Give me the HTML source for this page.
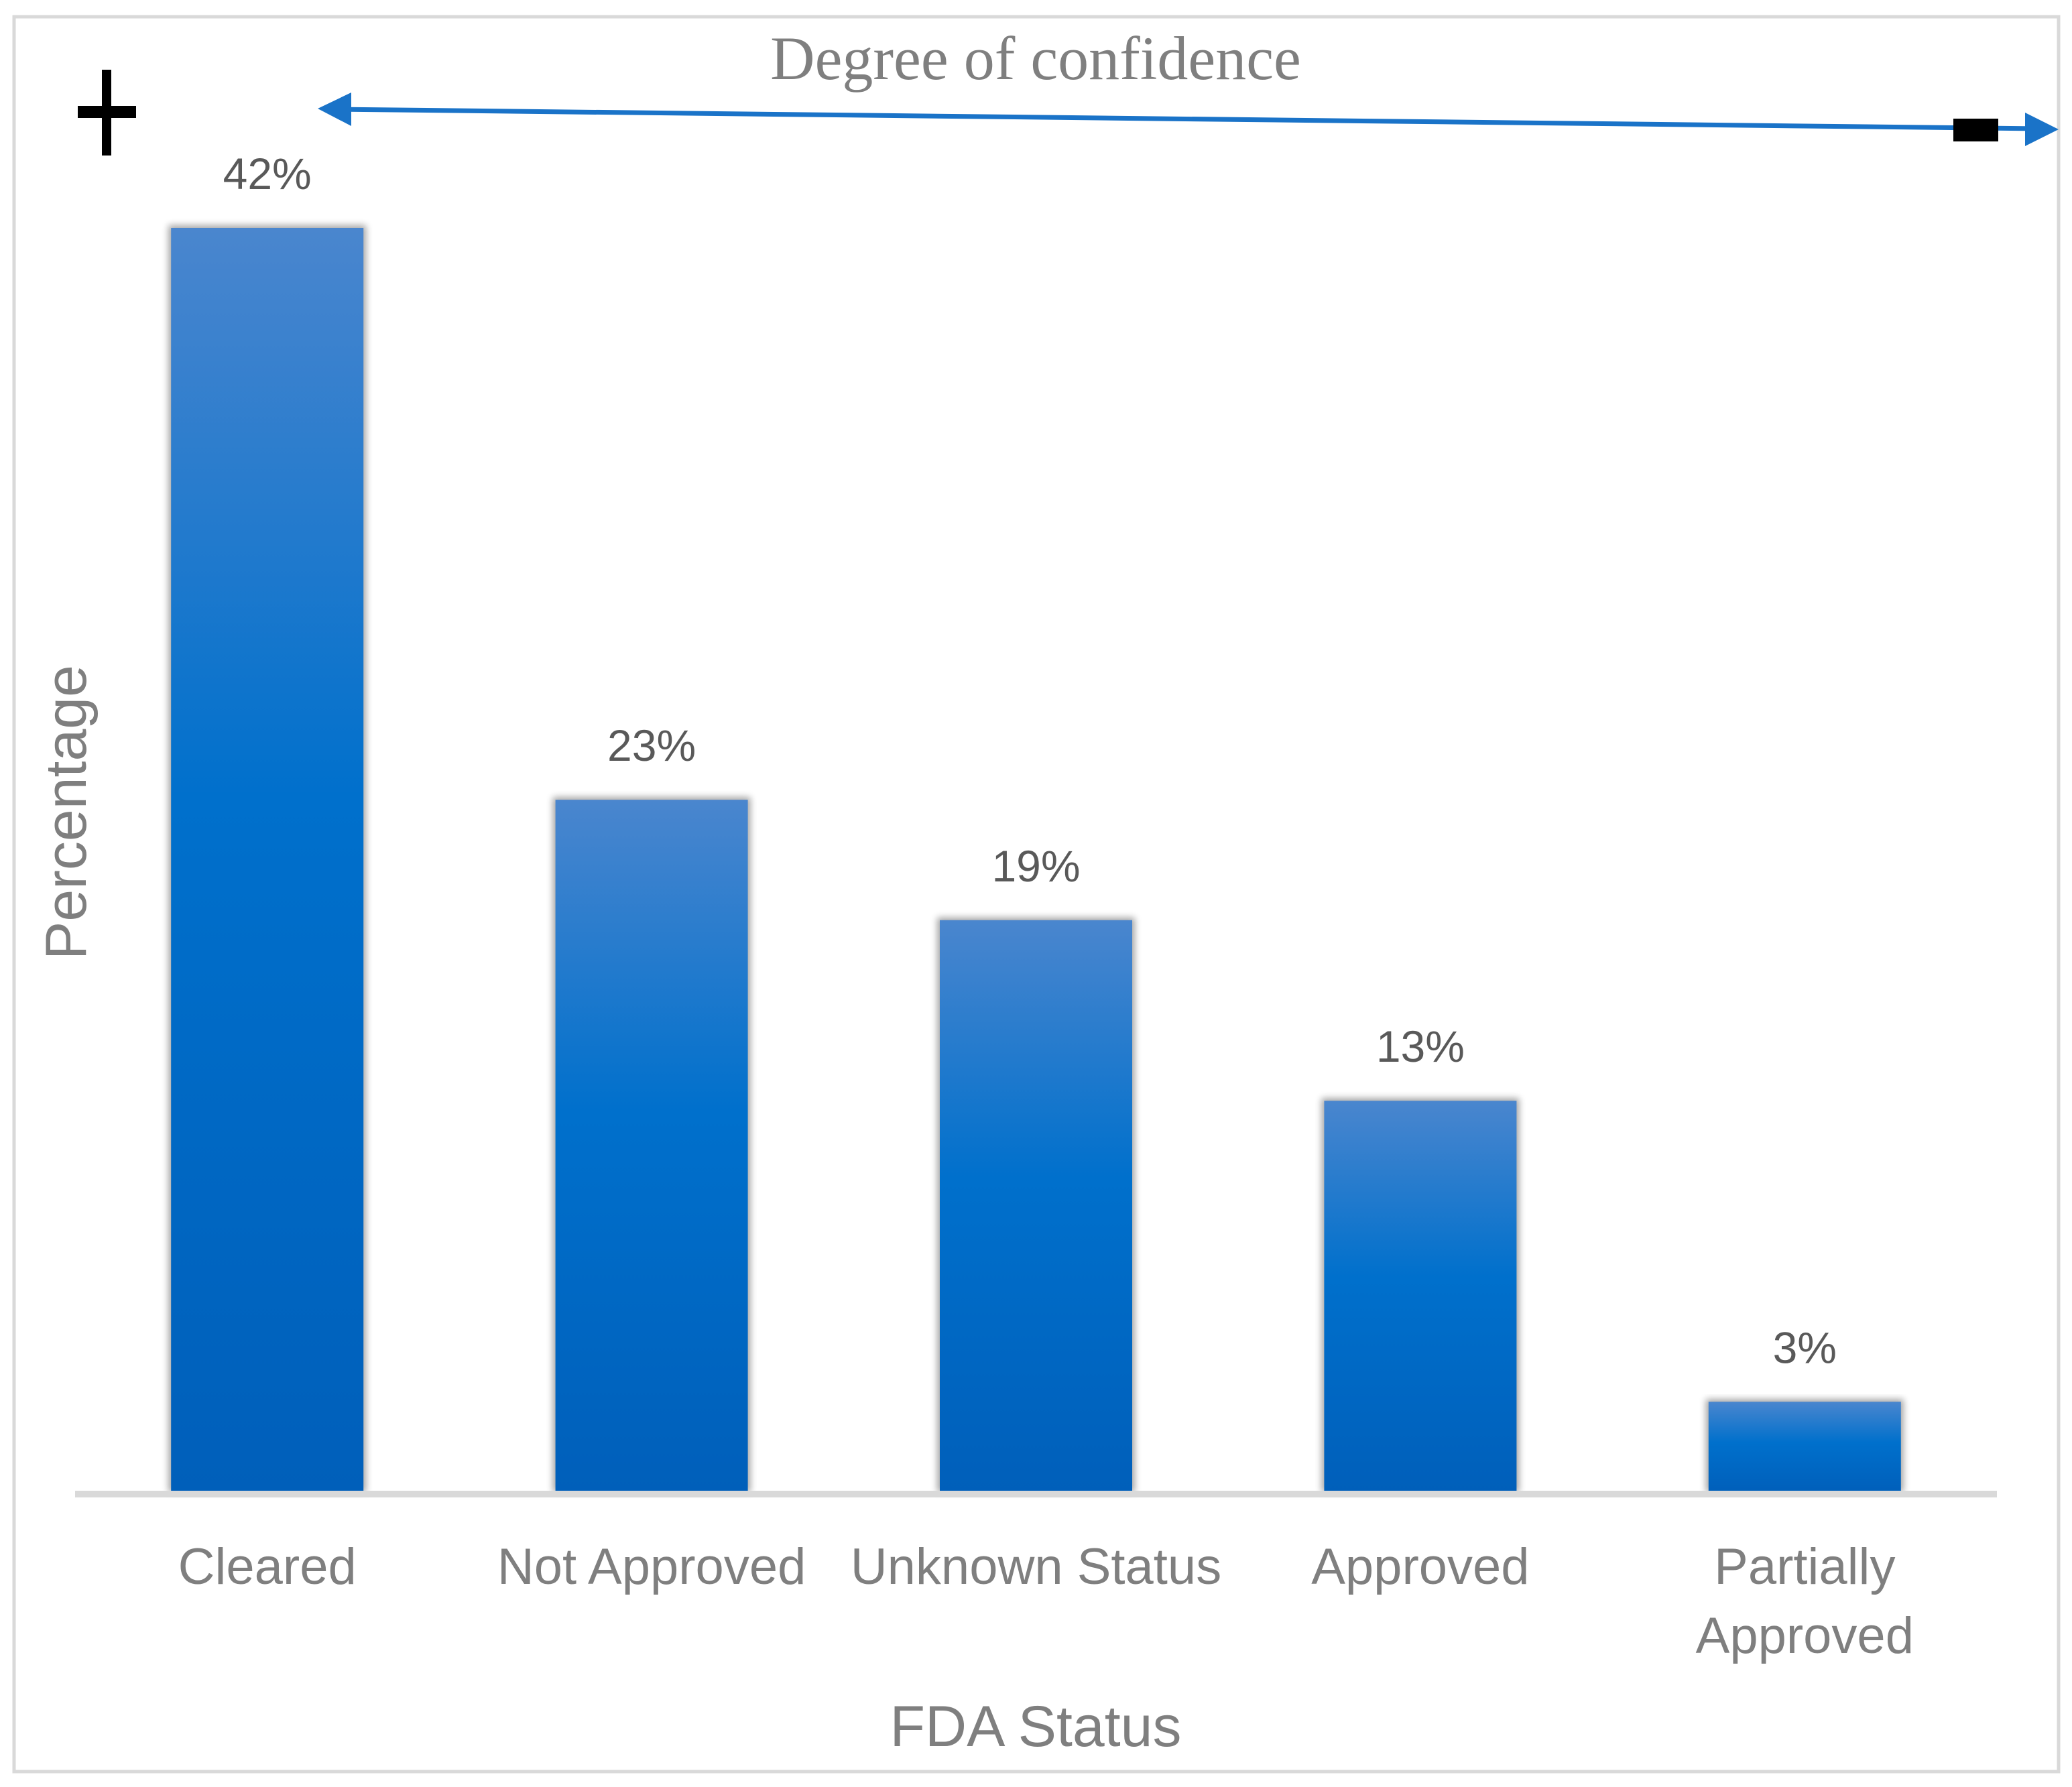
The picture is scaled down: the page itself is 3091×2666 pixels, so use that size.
<!DOCTYPE html>
<html><head><meta charset="utf-8"><style>
html,body{margin:0;padding:0;background:#fff;}
svg{display:block;}
</style></head><body>
<svg width="3091" height="2666" viewBox="0 0 3091 2666" xmlns="http://www.w3.org/2000/svg">
<defs>
<linearGradient id="bg" x1="0" y1="0" x2="0" y2="1">
<stop offset="0" stop-color="#4a86ce"/>
<stop offset="0.45" stop-color="#0070cc"/>
<stop offset="1" stop-color="#005fba"/>
</linearGradient>
<filter id="sh" x="-20%" y="-5%" width="140%" height="110%"><feGaussianBlur stdDeviation="5"/></filter>
</defs>
<rect x="21" y="25" width="3050" height="2618" fill="#fff" stroke="#d9d9d9" stroke-width="5"/>
<text x="1545" y="118" font-family="Liberation Serif, serif" font-size="92" fill="#7f7f7f" text-anchor="middle">Degree of confidence</text>
<line x1="500" y1="163" x2="3045" y2="192" stroke="#1a73c8" stroke-width="7"/>
<polygon points="474,162 524,138 524,188" fill="#1a73c8"/>
<polygon points="3071,193 3021,168 3021,218" fill="#1a73c8"/>
<g>
<rect x="152" y="104" width="14" height="128" fill="#000"/>
<rect x="116" y="158" width="87" height="18" fill="#000"/>
</g>
<rect x="2914" y="177" width="67" height="34" fill="#000"/>
<g id="bars"></g>
<rect x="112" y="2224" width="2867" height="10" fill="#d9d9d9"/>
<g id="xlabels" font-family="Liberation Sans, sans-serif" font-size="76" fill="#7f7f7f" text-anchor="middle"></g>
<text x="1545" y="2605" font-family="Liberation Sans, sans-serif" font-size="86" fill="#7f7f7f" text-anchor="middle">FDA Status</text>
<text transform="translate(128,1212) rotate(-90)" font-family="Liberation Sans, sans-serif" font-size="86" fill="#7f7f7f" text-anchor="middle">Percentage</text>
</svg>
<script>
const categories = ["Cleared", "Not Approved", "Unknown Status", "Approved", "Partially Approved"];
const values = [42, 23, 19, 13, 3];
const valueLabels = ["42%", "23%", "19%", "13%", "3%"];
const labelLines = [["Cleared"], ["Not Approved"], ["Unknown Status"], ["Approved"], ["Partially", "Approved"]];

const NS = "http://www.w3.org/2000/svg";
const baseY = 2226, topY = 340, plotL = 112, plotR = 2979, barW = 287;
const yScale = v => baseY - (v / 42) * (baseY - topY);
const step = (plotR - plotL) / categories.length;
const xCenter = i => plotL + step * (i + 0.5);
const bars = document.getElementById('bars');
const xl = document.getElementById('xlabels');
values.forEach((v, i) => {
  const cx = xCenter(i), y = yScale(v);
  const s = document.createElementNS(NS, 'rect');
  s.setAttribute('x', cx - barW / 2 - 4); s.setAttribute('y', y - 4);
  s.setAttribute('width', barW + 8); s.setAttribute('height', baseY - y + 4);
  s.setAttribute('fill', '#000'); s.setAttribute('opacity', '0.35'); s.setAttribute('filter', 'url(#sh)');
  
  
  bars.appendChild(s);
  const r = document.createElementNS(NS, 'rect');
  r.setAttribute('x', cx - barW / 2); r.setAttribute('y', y);
  r.setAttribute('width', barW); r.setAttribute('height', baseY - y);
  r.setAttribute('fill', 'url(#bg)');
  
  
  bars.appendChild(r);
  const t = document.createElementNS(NS, 'text');
  t.setAttribute('x', cx); t.setAttribute('y', y - 58);
  t.setAttribute('font-family', 'Liberation Sans, sans-serif'); t.setAttribute('font-size', '66');
  t.setAttribute('fill', '#595959'); t.setAttribute('text-anchor', 'middle');
  t.textContent = valueLabels[i];
  
  
  bars.appendChild(t);
  labelLines[i].forEach((ln, j) => {
    const lt = document.createElementNS(NS, 'text');
    lt.setAttribute('x', cx); lt.setAttribute('y', 2363 + j * 103);
    lt.textContent = ln;
    
    
    xl.appendChild(lt);
  });
});
</script>
</body></html>
